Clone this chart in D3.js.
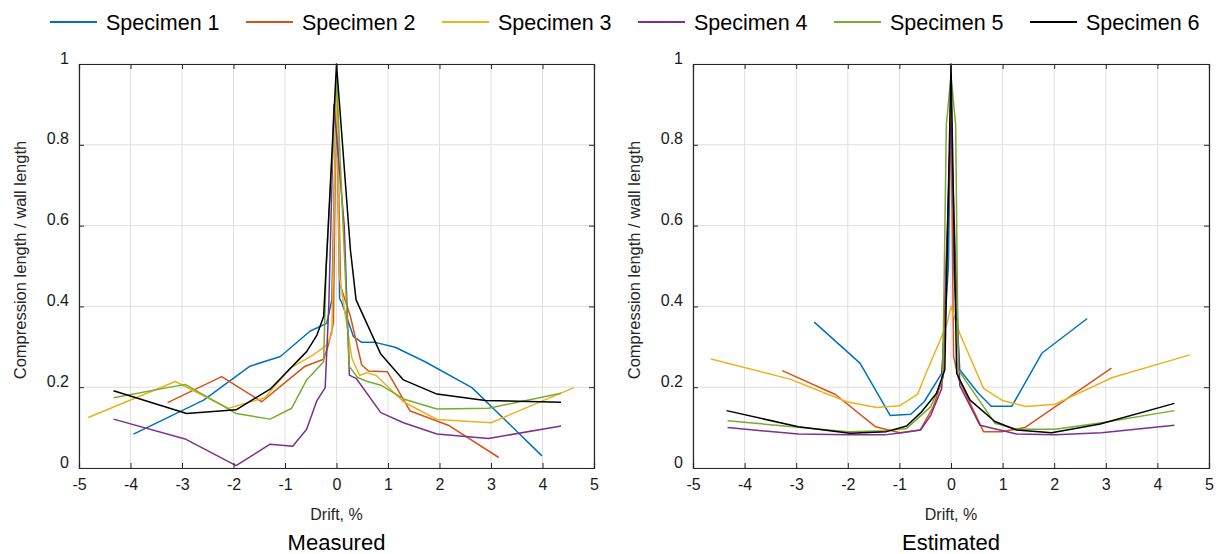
<!DOCTYPE html>
<html>
<head>
<meta charset="utf-8">
<script src="https://cdn.jsdelivr.net/npm/d3@7"></script>
<style>
  html, body { margin: 0; padding: 0; background: #fff; }
  svg { display: block; font-family: "Liberation Sans", Arial, sans-serif; }
</style>
</head>
<body>
<svg id="chart" width="1219" height="554"></svg>
<script>
// ---------- data ----------
const seriesNames = ["Specimen 1", "Specimen 2", "Specimen 3", "Specimen 4", "Specimen 5", "Specimen 6"];
const seriesColors = ["#0072BD", "#D95319", "#EDB120", "#7E2F8E", "#77AC30", "#000000"];
const xTicks = [-5, -4, -3, -2, -1, 0, 1, 2, 3, 4, 5];
const xTickLabels = ["-5", "-4", "-3", "-2", "-1", "0", "1", "2", "3", "4", "5"];
const yTicks = [0, 0.2, 0.4, 0.6, 0.8, 1];
const yTickLabels = ["0", "0.2", "0.4", "0.6", "0.8", "1"];
const panelTitles = ["Measured", "Estimated"];
const xLabel = "Drift, %";
const yLabel = "Compression length / wall length";

// Measured: [drift %, compression length / wall length]
const measured1 = [[-3.94,0.084],[-2.58,0.168],[-1.68,0.252],[-1.09,0.276],[-0.51,0.339],[-0.19,0.358],[-0.09,0.416],[0,0.95],[0.06,0.42],[0.1,0.41],[0.33,0.325],[0.49,0.311],[0.75,0.311],[1.14,0.299],[1.72,0.263],[2.63,0.199],[3.99,0.030]];
const measured2 = [[-3.28,0.162],[-2.23,0.226],[-1.45,0.164],[-1.06,0.205],[-0.61,0.252],[-0.25,0.269],[-0.16,0.304],[-0.06,0.358],[0,0.97],[0.08,0.45],[0.27,0.375],[0.49,0.255],[0.62,0.240],[0.99,0.238],[1.43,0.141],[2.17,0.106],[3.15,0.026]];
const measured3 = [[-4.82,0.125],[-3.13,0.214],[-2.10,0.148],[-1.39,0.174],[-0.90,0.247],[-0.45,0.280],[-0.19,0.304],[-0.09,0.333],[0,0.97],[0.06,0.472],[0.30,0.271],[0.45,0.229],[0.59,0.236],[0.77,0.229],[1.30,0.164],[1.95,0.120],[3.0,0.112],[4.61,0.199]];
const measured4 = [[-4.33,0.121],[-2.94,0.072],[-1.95,0.006],[-1.29,0.059],[-0.85,0.054],[-0.58,0.096],[-0.38,0.167],[-0.22,0.199],[-0.15,0.40],[-0.05,0.90],[0.15,0.60],[0.25,0.23],[0.38,0.222],[0.86,0.137],[1.30,0.112],[1.95,0.084],[2.95,0.073],[4.36,0.104]];
const measured5 = [[-4.33,0.174],[-2.94,0.207],[-1.95,0.135],[-1.29,0.121],[-0.87,0.148],[-0.58,0.218],[-0.25,0.263],[-0.2,0.50],[0,0.97],[0.17,0.48],[0.25,0.251],[0.41,0.224],[0.60,0.214],[0.88,0.204],[1.30,0.171],[1.95,0.146],[2.95,0.148],[4.36,0.185]];
const measured6 = [[-4.33,0.191],[-2.91,0.135],[-1.95,0.144],[-1.29,0.195],[-0.58,0.288],[-0.38,0.329],[-0.25,0.375],[0,1.0],[0.27,0.540],[0.38,0.416],[0.86,0.282],[1.30,0.218],[1.95,0.183],[2.89,0.167],[4.36,0.163]];

// Estimated
const estimated1 = [[-2.65,0.361],[-1.76,0.259],[-1.18,0.130],[-0.78,0.133],[-0.52,0.164],[-0.18,0.234],[-0.05,0.50],[0,0.95],[0.05,0.50],[0.17,0.243],[0.53,0.185],[0.78,0.153],[1.18,0.153],[1.76,0.284],[2.64,0.370]];
const estimated2 = [[-3.27,0.241],[-2.24,0.182],[-1.46,0.102],[-1.21,0.094],[-0.99,0.087],[-0.60,0.094],[-0.34,0.152],[-0.15,0.226],[0,0.90],[0.05,0.276],[0.15,0.22],[0.63,0.090],[0.98,0.090],[1.43,0.100],[3.11,0.247]];
const estimated3 = [[-4.65,0.270],[-3.12,0.220],[-2.02,0.164],[-1.44,0.150],[-1.0,0.154],[-0.65,0.182],[-0.48,0.236],[-0.08,0.356],[0,0.40],[0.17,0.333],[0.63,0.197],[1.0,0.167],[1.45,0.152],[2.02,0.158],[3.13,0.224],[4.63,0.280]];
const estimated4 = [[-4.33,0.100],[-2.96,0.084],[-1.99,0.082],[-1.28,0.082],[-0.92,0.088],[-0.59,0.094],[-0.39,0.131],[-0.18,0.197],[0,0.85],[0.17,0.204],[0.56,0.106],[1.27,0.084],[2.02,0.082],[2.92,0.087],[4.33,0.106]];
const estimated5 = [[-4.33,0.117],[-2.96,0.101],[-1.99,0.090],[-1.28,0.092],[-0.86,0.098],[-0.39,0.152],[-0.16,0.222],[-0.09,0.85],[0,0.97],[0.09,0.85],[0.14,0.243],[0.85,0.111],[1.27,0.096],[2.02,0.096],[2.92,0.112],[4.33,0.142]];
const estimated6 = [[-4.35,0.142],[-2.96,0.102],[-1.96,0.086],[-1.25,0.090],[-0.86,0.104],[-0.57,0.139],[-0.28,0.185],[-0.12,0.243],[0,1.0],[0.11,0.234],[0.37,0.168],[0.85,0.115],[1.27,0.094],[1.95,0.087],[2.89,0.109],[4.33,0.160]];

const panelData = [
  [measured1, measured2, measured3, measured4, measured5, measured6],
  [estimated1, estimated2, estimated3, estimated4, estimated5, estimated6]
];

// ---------- layout ----------
const svg = d3.select("#chart");
const panels = [
  { left: 79, right: 594, top: 64, bottom: 468, yLabelX: 20 },
  { left: 693, right: 1209, top: 64, bottom: 468, yLabelX: 634 }
];
const axisColor = "#262626";
const gridColor = "#dfdfdf";

panels.forEach((p, pi) => {
  const x = d3.scaleLinear().domain([-5, 5]).range([p.left, p.right]);
  const y = d3.scaleLinear().domain([0, 1]).range([p.bottom, p.top]);
  const g = svg.append("g");

  // grid
  g.append("g").selectAll("line").data(xTicks).join("line")
    .attr("x1", d => x(d)).attr("x2", d => x(d))
    .attr("y1", p.top).attr("y2", p.bottom)
    .attr("stroke", gridColor).attr("stroke-width", 1);
  g.append("g").selectAll("line").data(yTicks).join("line")
    .attr("y1", d => y(d)).attr("y2", d => y(d))
    .attr("x1", p.left).attr("x2", p.right)
    .attr("stroke", gridColor).attr("stroke-width", 1);

  // data lines
  const line = d3.line().x(d => x(d[0])).y(d => y(d[1]));
  const clipId = "clip" + pi;
  svg.append("clipPath").attr("id", clipId).append("rect")
    .attr("x", p.left).attr("y", p.top - 1).attr("width", p.right - p.left).attr("height", p.bottom - p.top + 1);
  g.append("g").attr("clip-path", `url(#${clipId})`)
    .selectAll("path").data(panelData[pi]).join("path")
    .attr("d", d => line(d))
    .attr("fill", "none")
    .attr("stroke", (d, i) => seriesColors[i])
    .attr("stroke-width", 1.5)
    .attr("stroke-linejoin", "round");

  // axes (box with inward ticks)
  const bottomAxis = d3.axisBottom(x).tickValues(xTicks).tickSize(-5).tickPadding(11).tickFormat((d, i) => xTickLabels[i]);
  const topAxis = d3.axisTop(x).tickValues(xTicks).tickSize(-5).tickFormat("");
  const leftAxis = d3.axisLeft(y).tickValues(yTicks).tickSize(-5).tickPadding(10).tickFormat((d, i) => yTickLabels[i]);
  const rightAxis = d3.axisRight(y).tickValues(yTicks).tickSize(-5).tickFormat("");

  const ab = g.append("g").attr("transform", `translate(0,${p.bottom})`).call(bottomAxis);
  const at = g.append("g").attr("transform", `translate(0,${p.top})`).call(topAxis);
  const al = g.append("g").attr("transform", `translate(${p.left},0)`).call(leftAxis);
  const ar = g.append("g").attr("transform", `translate(${p.right},0)`).call(rightAxis);
  [ab, at, al, ar].forEach(a => {
    a.select(".domain").attr("stroke", axisColor).attr("stroke-width", 1.2);
    a.selectAll(".tick line").attr("stroke", axisColor).attr("stroke-width", 1);
    a.selectAll("text").attr("fill", "#1a1a1a").attr("font-size", 16)
      .attr("font-family", "Liberation Sans, Arial, sans-serif");
  });
  al.selectAll("text").attr("dy", "0").attr("y", -1);
  ab.selectAll("text").attr("dy", "0.71em");

  // labels
  svg.append("text").attr("x", (p.left + p.right) / 2).attr("y", 520)
    .attr("text-anchor", "middle").attr("font-size", 16).attr("fill", "#262626").text(xLabel);
  svg.append("text").attr("transform", `translate(${p.yLabelX},${(p.top + p.bottom) / 2 - 6}) rotate(-90)`)
    .attr("text-anchor", "middle").attr("dy", "0.35em").attr("font-size", 16.5).attr("fill", "#262626").text(yLabel);
  svg.append("text").attr("x", (p.left + p.right) / 2).attr("y", 550)
    .attr("text-anchor", "middle").attr("font-size", 22).attr("fill", "#000").text(panelTitles[pi]);
});

// legend
const legend = svg.append("g");
const legendItems = legend.selectAll("g").data(seriesNames).join("g")
  .attr("transform", (d, i) => `translate(${50 + i * 196},0)`);
legendItems.append("line")
  .attr("x1", 0).attr("x2", 47).attr("y1", 22).attr("y2", 22)
  .attr("stroke", (d, i) => seriesColors[i]).attr("stroke-width", 1.8);
legendItems.append("text")
  .attr("x", 56).attr("y", 29.5)
  .attr("font-size", 21.5).attr("fill", "#000").text(d => d);
</script>
</body>
</html>
